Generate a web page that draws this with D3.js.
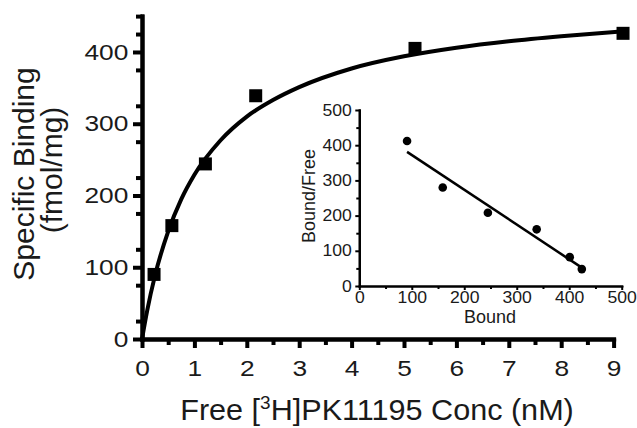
<!DOCTYPE html>
<html>
<head>
<meta charset="utf-8">
<script src="https://cdn.jsdelivr.net/npm/d3@7"></script>
<style>
body { margin: 0; background: #fff; }
text { font-family: "Liberation Sans", Arial, sans-serif; fill: #1a1a1a; }
</style>
</head>
<body>
<div id="chart"></div>
<script>
// saturation binding points
var freeConc = [0.23, 0.57, 1.21, 2.17, 5.21, 9.18];
var specBound = [90, 158, 244, 339, 405, 426];
// fitted curve
var fitX = [0, 0.1, 0.25, 0.5, 0.75, 1, 1.5, 2, 2.5, 3, 4, 5, 6, 7, 8, 9.2];
var fitY = [0, 40, 89, 150, 195, 229, 277, 310, 333, 351, 377, 394, 406, 415, 422, 429];
var xTicks = [0, 1, 2, 3, 4, 5, 6, 7, 8, 9];
var yTicks = [0, 100, 200, 300, 400];

// scatchard inset
var insetBound = [91, 159, 245, 338, 401, 424];
var insetRatio = [412, 280, 208, 161, 82, 48];
var regX = [91, 421];
var regY = [381, 55];
var insetTicks = [0, 100, 200, 300, 400, 500];

var width = 637, height = 428;
var stretch = 1.17; // the figure's lettering is a bit wide

var svg = d3.select("#chart").append("svg")
  .attr("width", width)
  .attr("height", height);

var x = d3.scaleLinear().domain([0, 9]).range([142, 613.6]);
var y = d3.scaleLinear().domain([0, 450]).range([339, 16.1]);

// minor ticks first
svg.append("g")
  .attr("class", "axis")
  .attr("transform", "translate(0,339)")
  .call(d3.axisBottom(x).tickValues(d3.range(0.5, 9, 1)).tickSize(6).tickSizeOuter(0).tickFormat(""));
svg.append("g")
  .attr("class", "axis")
  .attr("transform", "translate(142,0)")
  .call(d3.axisLeft(y).tickValues(d3.range(25, 451, 50).concat([450])).tickSize(6).tickSizeOuter(0).tickFormat(""));

var xAxis = svg.append("g")
  .attr("class", "axis")
  .attr("transform", "translate(0,339)")
  .call(d3.axisBottom(x).tickValues(xTicks).tickSize(9).tickPadding(12).tickSizeOuter(0));
var yAxis = svg.append("g")
  .attr("class", "axis")
  .attr("transform", "translate(142,0)")
  .call(d3.axisLeft(y).tickValues(yTicks).tickSize(9).tickPadding(5).tickSizeOuter(0));

svg.selectAll(".axis path").attr("stroke", "#000").attr("stroke-width", 4).attr("stroke-linecap", "square");
svg.selectAll(".axis line").attr("stroke", "#000").attr("stroke-width", 4);
svg.selectAll(".axis text").style("font-size", "22.5px").attr("fill", "#1a1a1a")
  .attr("transform", `scale(${stretch},1)`);
yAxis.selectAll("text").attr("x", -13.7 / stretch);

// fitted curve
var fit = fitX.map((d, i) => [d, fitY[i]]);
svg.append("path")
  .datum(fit)
  .attr("fill", "none")
  .attr("stroke", "#000")
  .attr("stroke-width", 4)
  .attr("d", d3.line().x(d => x(d[0])).y(d => y(d[1])).curve(d3.curveMonotoneX));

svg.selectAll(".sq")
  .data(freeConc)
  .enter().append("rect")
  .attr("class", "sq")
  .attr("x", d => x(d) - 6.5)
  .attr("y", (d, i) => y(specBound[i]) - 6.5)
  .attr("width", 13)
  .attr("height", 13)
  .attr("fill", "#000");

// axis titles
var xt = svg.append("text")
  .attr("transform", "translate(377,420) scale(1.055,1)")
  .attr("text-anchor", "middle")
  .style("font-size", "29px");
xt.append("tspan").text("Free [");
xt.append("tspan").attr("dy", -11).style("font-size", "18px").text("3");
xt.append("tspan").attr("dy", 11).text("H]PK11195 Conc (nM)");

svg.append("text")
  .attr("transform", "translate(34,174) rotate(-90)")
  .attr("text-anchor", "middle")
  .style("font-size", "30px")
  .text("Specific Binding");
svg.append("text")
  .attr("transform", "translate(62,170) rotate(-90)")
  .attr("text-anchor", "middle")
  .style("font-size", "30px")
  .text("(fmol/mg)");

// inset
var ix = d3.scaleLinear().domain([0, 500]).range([359.3, 621.7]);
var iy = d3.scaleLinear().domain([0, 500]).range([286, 110]);

svg.append("g")
  .attr("class", "iaxis")
  .attr("transform", "translate(0,286)")
  .call(d3.axisBottom(ix).tickValues(d3.range(50, 500, 100)).tickSize(3).tickSizeOuter(0).tickFormat(""));
svg.append("g")
  .attr("class", "iaxis")
  .attr("transform", "translate(359.3,0)")
  .call(d3.axisLeft(iy).tickValues(d3.range(50, 500, 100)).tickSize(3).tickSizeOuter(0).tickFormat(""));
var ixAxis = svg.append("g")
  .attr("class", "iaxis")
  .attr("transform", "translate(0,286)")
  .call(d3.axisBottom(ix).tickValues(insetTicks).tickSize(4).tickPadding(2).tickSizeOuter(0));
var iyAxis = svg.append("g")
  .attr("class", "iaxis")
  .attr("transform", "translate(359.3,0)")
  .call(d3.axisLeft(iy).tickValues(insetTicks).tickSize(4).tickPadding(3).tickSizeOuter(0));

svg.selectAll(".iaxis path").attr("stroke", "#000").attr("stroke-width", 2.2).attr("stroke-linecap", "square");
svg.selectAll(".iaxis line").attr("stroke", "#000").attr("stroke-width", 2);
svg.selectAll(".iaxis text").style("font-size", "16px").attr("fill", "#1a1a1a")
  .attr("transform", "scale(1.1,1)");
iyAxis.selectAll("text").attr("x", -7.5 / 1.1);

svg.append("line")
  .attr("x1", ix(regX[0])).attr("y1", iy(regY[0]))
  .attr("x2", ix(regX[1])).attr("y2", iy(regY[1]))
  .attr("stroke", "#000")
  .attr("stroke-width", 2.5);

svg.selectAll(".dot")
  .data(insetBound)
  .enter().append("circle")
  .attr("class", "dot")
  .attr("cx", d => ix(d))
  .attr("cy", (d, i) => iy(insetRatio[i]))
  .attr("r", 4.3)
  .attr("fill", "#000");

svg.append("text")
  .attr("x", 490)
  .attr("y", 323)
  .attr("text-anchor", "middle")
  .style("font-size", "18px")
  .text("Bound");
svg.append("text")
  .attr("transform", "translate(315,196) rotate(-90)")
  .attr("text-anchor", "middle")
  .style("font-size", "18px")
  .text("Bound/Free");
</script>
</body>
</html>
